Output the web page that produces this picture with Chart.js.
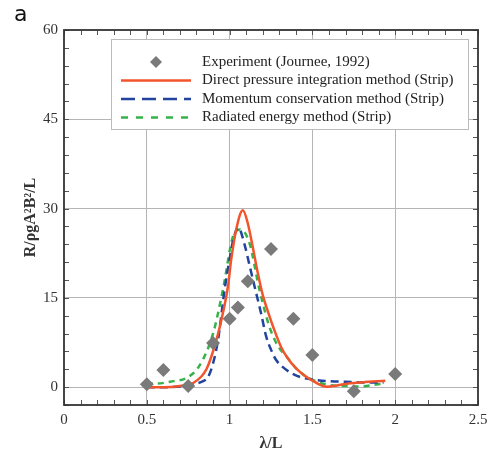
<!DOCTYPE html>
<html>
<head>
<meta charset="utf-8">
<script src="https://cdn.jsdelivr.net/npm/chart.js@4.4.1/dist/chart.umd.min.js"></script>
<style>
  body { margin: 0; background: #fff; }
  canvas { display: block; }
</style>
</head>
<body>
<canvas id="chart" width="488" height="453"></canvas>
<script>
// tick labels shown on the axes
var xLabels = [0, 0.5, 1, 1.5, 2, 2.5];
var yLabels = [0, 15, 30, 45, 60];

// Experiment (Journee, 1992)
var expX = [0.5, 0.6, 0.75, 0.9, 1.0, 1.05, 1.11, 1.25, 1.385, 1.5, 1.75, 2.0];
var expY = [0.5, 2.9, 0.2, 7.4, 11.5, 13.4, 17.8, 23.2, 11.5, 5.4, -0.7, 2.2];

// Direct pressure integration method (Strip)
var dpiX = [0.5, 0.6, 0.7, 0.78, 0.86, 0.92, 0.96, 0.99, 1.01, 1.04, 1.08, 1.11, 1.14, 1.17, 1.2, 1.235, 1.27, 1.31, 1.35, 1.4, 1.45, 1.5, 1.55, 1.59, 1.64, 1.69, 1.8, 1.94];
var dpiY = [0, 0, 0.2, 0.7, 3.0, 7.9, 12.5, 16.9, 21.5, 26.5, 29.7, 27.5, 23.5, 19.2, 15.5, 12.4, 9.6, 6.8, 4.9, 3.2, 2.0, 1.1, 0.35, 0.05, 0.25, 0.5, 0.8, 1.07];

// Momentum conservation method (Strip)
var mcmX = [0.5, 0.6, 0.7, 0.78, 0.84, 0.87, 0.9, 0.93, 0.97, 1.0, 1.02, 1.053, 1.09, 1.12, 1.15, 1.19, 1.22, 1.25, 1.28, 1.32, 1.37, 1.425, 1.526, 1.6, 1.7, 1.8, 1.93];
var mcmY = [0, 0, 0.1, 0.5, 1.0, 1.7, 4.0, 7.9, 16.4, 21.5, 24.5, 26.8, 24.0, 20.5, 17.0, 12.4, 8.6, 6.3, 4.6, 3.4, 2.4, 1.7, 1.2, 1.0, 0.9, 0.8, 0.8];

// Radiated energy method (Strip)
var remX = [0.5, 0.55, 0.64, 0.75, 0.82, 0.9, 0.96, 1.02, 1.063, 1.12, 1.18, 1.24, 1.29, 1.345, 1.4, 1.466, 1.53, 1.586, 1.69, 1.77, 1.93];
var remY = [0.6, 0.6, 0.9, 1.7, 3.7, 9.0, 16.4, 25.3, 26.5, 24.2, 16.4, 10.2, 7.0, 5.1, 3.2, 1.7, 0.9, 0.4, 0.2, 0.1, 0.6];

function toPoints(xs, ys) {
  return xs.map(function (x, i) { return { x: x, y: ys[i] }; });
}

function isLabel(list, v) {
  return list.some(function (l) { return Math.abs(l - v) < 1e-6; });
}

var serif = "'Liberation Serif', 'DejaVu Serif', serif";

// inner tick marks on all four sides + frame
var frameTicks = {
  id: "frameTicks",
  afterDatasetsDraw: function (chart) {
    var ctx = chart.ctx, a = chart.chartArea, x = chart.scales.x, y = chart.scales.y;
    ctx.save();
    ctx.strokeStyle = "#555";
    ctx.lineWidth = 1;
    ctx.beginPath();
    x.ticks.forEach(function (t) {
      var px = Math.round(x.getPixelForValue(t.value)) + 0.5;
      ctx.moveTo(px, a.bottom); ctx.lineTo(px, a.bottom - 5);
      ctx.moveTo(px, a.top); ctx.lineTo(px, a.top + 5);
    });
    y.ticks.forEach(function (t) {
      var py = Math.round(y.getPixelForValue(t.value)) + 0.5;
      ctx.moveTo(a.left, py); ctx.lineTo(a.left + 5, py);
      ctx.moveTo(a.right, py); ctx.lineTo(a.right - 5, py);
    });
    ctx.stroke();
    ctx.strokeStyle = "#333";
    ctx.lineWidth = 1.8;
    ctx.strokeRect(a.left, a.top, a.right - a.left, a.bottom - a.top);
    // panel letter
    ctx.fillStyle = "#111";
    ctx.font = "22px 'DejaVu Sans', sans-serif";
    ctx.textBaseline = "alphabetic";
    ctx.fillText("a", 14, 21);
    ctx.restore();
  }
};

// legend box inside the plot
var boxLegend = {
  id: "boxLegend",
  afterDraw: function (chart) {
    var ctx = chart.ctx, a = chart.chartArea;
    var left = a.left + 47, top = a.top + 9, w = 357, h = 90;
    ctx.save();
    ctx.fillStyle = "#fff";
    ctx.fillRect(left, top, w, h);
    ctx.strokeStyle = "#bbb";
    ctx.lineWidth = 1;
    ctx.strokeRect(left + 0.5, top + 0.5, w, h);
    ctx.font = "15px " + serif;
    ctx.textBaseline = "middle";
    chart.data.datasets.forEach(function (ds, i) {
      var cy = top + 23 + i * 18.5;
      if (ds.showLine) {
        ctx.strokeStyle = ds.borderColor;
        ctx.lineWidth = ds.borderWidth;
        ctx.setLineDash(ds.legendDash || []);
        ctx.beginPath();
        ctx.moveTo(left + 10, cy);
        ctx.lineTo(left + 80, cy);
        ctx.stroke();
        ctx.setLineDash([]);
      } else {
        ctx.fillStyle = ds.backgroundColor;
        ctx.beginPath();
        ctx.moveTo(left + 45, cy - 6);
        ctx.lineTo(left + 51, cy);
        ctx.lineTo(left + 45, cy + 6);
        ctx.lineTo(left + 39, cy);
        ctx.closePath();
        ctx.fill();
      }
      ctx.fillStyle = "#222";
      ctx.fillText(ds.label, left + 91, cy);
    });
    ctx.restore();
  }
};

var chart = new Chart(document.getElementById("chart"), {
  type: "scatter",
  data: {
    datasets: [
      {
        label: "Experiment (Journee, 1992)",
        data: toPoints(expX, expY),
        pointStyle: "rectRot",
        pointRadius: 7,
        backgroundColor: "#7a7a7a",
        borderColor: "#7a7a7a",
        borderWidth: 0,
        showLine: false
      },
      {
        label: "Direct pressure integration method (Strip)",
        data: toPoints(dpiX, dpiY),
        showLine: true,
        borderColor: "#f2552b",
        borderWidth: 2.5,
        pointRadius: 0,
        cubicInterpolationMode: "monotone"
      },
      {
        label: "Momentum conservation method (Strip)",
        data: toPoints(mcmX, mcmY),
        showLine: true,
        borderColor: "#22449e",
        borderWidth: 2.5,
        borderDash: [8, 5],
        legendDash: [14, 7],
        pointRadius: 0,
        cubicInterpolationMode: "monotone"
      },
      {
        label: "Radiated energy method (Strip)",
        data: toPoints(remX, remY),
        showLine: true,
        borderColor: "#35b24a",
        borderWidth: 2.5,
        borderDash: [6, 5],
        legendDash: [7, 8],
        pointRadius: 0,
        cubicInterpolationMode: "monotone"
      }
    ]
  },
  options: {
    responsive: false,
    animation: false,
    layout: { padding: { top: 30, right: 10, left: 0, bottom: 0 } },
    plugins: {
      legend: { display: false },
      tooltip: { enabled: false }
    },
    scales: {
      x: {
        type: "linear",
        min: 0,
        max: 2.5,
        afterFit: function (s) { s.height = 48; s.paddingLeft = 0; s.paddingRight = 0; },
        border: { display: false },
        grid: {
          drawTicks: false,
          lineWidth: 1,
          color: function (c) {
            var v = c.tick ? c.tick.value : 0;
            return isLabel(xLabels, v) && v > 0 && v < 2.5 ? "#b5b5b5" : "rgba(0,0,0,0)";
          }
        },
        ticks: {
          stepSize: 0.1,
          autoSkip: false,
          maxRotation: 0,
          padding: 6,
          color: "#333",
          font: { family: serif, size: 15 },
          callback: function (v) { return isLabel(xLabels, v) ? String(Math.round(v * 10) / 10) : ""; }
        },
        title: {
          display: true,
          text: "λ/L",
          color: "#333",
          font: { family: serif, size: 16, weight: "bold" },
          padding: { top: 0, bottom: 0 }
        }
      },
      y: {
        min: -3,
        max: 60,
        afterFit: function (s) { s.width = 64; },
        border: { display: false },
        grid: {
          drawTicks: false,
          lineWidth: 1,
          color: function (c) {
            var v = c.tick ? c.tick.value : 0;
            return isLabel(yLabels, v) && v < 60 ? "#b5b5b5" : "rgba(0,0,0,0)";
          }
        },
        ticks: {
          stepSize: 3,
          autoSkip: false,
          padding: 6,
          color: "#333",
          font: { family: serif, size: 15 },
          callback: function (v) { return isLabel(yLabels, v) ? String(Math.round(v)) : ""; }
        },
        title: {
          display: true,
          text: "R/ρgA²B²/L",
          color: "#333",
          font: { family: serif, size: 16, weight: "bold" },
          padding: { top: 21, bottom: 0 }
        }
      }
    }
  },
  plugins: [frameTicks, boxLegend]
});
</script>
</body>
</html>
